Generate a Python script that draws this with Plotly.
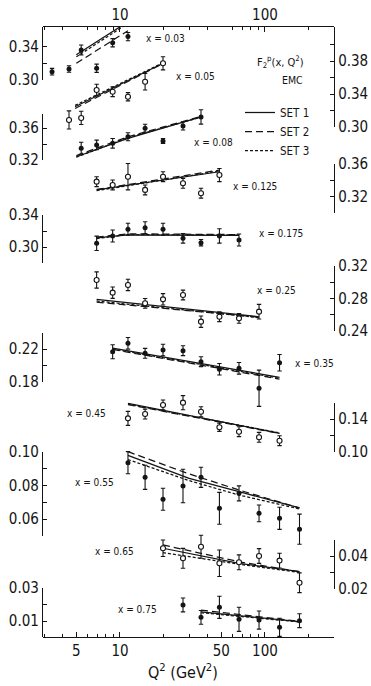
import plotly.graph_objects as go

# ---------------- DATA ----------------
Q2 = [3.4, 4.45, 5.4, 6.9, 8.9, 11.35, 14.9, 19.8, 27.2, 36.2, 48.5, 66.2, 91, 126, 173]

X_LABELS = ["0.03", "0.05", "0.08", "0.125", "0.175", "0.25", "0.35", "0.45", "0.55", "0.65", "0.75"]
FIRST_BIN = [0, 1, 2, 3, 3, 3, 4, 5, 5, 7, 8]
OPEN_SYMBOL = [False, True, False, True, False, True, False, True, False, True, False]

F2_003 = [0.3095, 0.3127, 0.3358, 0.3136, 0.3446, 0.352]
ERR_003 = [0.004, 0.004, 0.006, 0.005, 0.005, 0.005]
F2_005 = [0.3085, 0.311, 0.3448, 0.3428, 0.3367, 0.3549, 0.3772]
ERR_005 = [0.011, 0.008, 0.007, 0.006, 0.005, 0.010, 0.008]
F2_008 = [0.3346, 0.3388, 0.3409, 0.3491, 0.3596, 0.3438, 0.3625, 0.3738]
ERR_008 = [0.0075, 0.006, 0.006, 0.005, 0.005, 0.003, 0.005, 0.009]
F2_0125 = [0.338, 0.334, 0.344, 0.328, 0.344, 0.336, 0.324, 0.346]
ERR_0125 = [0.006, 0.006, 0.016, 0.006, 0.006, 0.006, 0.006, 0.008]
F2_0175 = [0.3046, 0.3138, 0.3221, 0.3241, 0.3221, 0.3109, 0.3054, 0.3138, 0.3088]
ERR_0175 = [0.009, 0.0075, 0.0075, 0.0075, 0.0075, 0.006, 0.004, 0.009, 0.0075]
F2_025 = [0.3028, 0.2872, 0.2967, 0.2741, 0.279, 0.2843, 0.2515, 0.2576, 0.2556, 0.2638]
ERR_025 = [0.010, 0.007, 0.007, 0.006, 0.007, 0.006, 0.007, 0.006, 0.006, 0.009]
F2_035 = [0.2167, 0.2269, 0.2148, 0.2188, 0.218, 0.2046, 0.1954, 0.1966, 0.1724, 0.2034]
ERR_035 = [0.0085, 0.007, 0.006, 0.007, 0.006, 0.006, 0.007, 0.007, 0.022, 0.010]
F2_045 = [0.1408, 0.146, 0.157, 0.1598, 0.1488, 0.130, 0.1246, 0.1178, 0.1137]
ERR_045 = [0.0085, 0.006, 0.006, 0.0085, 0.006, 0.005, 0.006, 0.006, 0.006]
F2_055 = [0.0936, 0.0849, 0.0718, 0.0797, 0.0849, 0.0664, 0.0753, 0.0634, 0.0604, 0.0539]
ERR_055 = [0.0066, 0.0072, 0.0066, 0.010, 0.006, 0.0095, 0.0045, 0.005, 0.0066, 0.009]
F2_065 = [0.0447, 0.0386, 0.0456, 0.0356, 0.0362, 0.040, 0.0372, 0.0238]
ERR_065 = [0.005, 0.006, 0.007, 0.008, 0.0045, 0.0045, 0.0045, 0.006]
F2_075 = [0.0197, 0.0122, 0.0183, 0.011, 0.0106, 0.0062, 0.0102]
ERR_075 = [0.0042, 0.0042, 0.0067, 0.0073, 0.0055, 0.0055, 0.0042]

# fitted curves (SET 1, SET 2, SET 3)
LQ_003 = [5.0, 11.35]
S1_003 = [0.330, 0.370]; S2_003 = [0.3196, 0.3592]; S3_003 = [0.3275, 0.368]
LQ_005 = [4.9, 19.8]
S1_005 = [0.3246, 0.3772]; S2_005 = [0.3225, 0.3768]; S3_005 = [0.3262, 0.3778]
LQ_008 = [5.0, 11.35, 36.2]
S1_008 = [0.3241, 0.3471, 0.3738]; S2_008 = [0.3255, 0.349, 0.3745]; S3_008 = [0.3235, 0.348, 0.3735]
LQ_0125 = [6.9, 19.8, 48.5]
S1_0125 = [0.3279, 0.3394, 0.350]; S2_0125 = [0.3285, 0.341, 0.352]; S3_0125 = [0.327, 0.340, 0.351]
LQ_0175 = [6.9, 11.35, 66.2]
S1_0175 = [0.3113, 0.315, 0.3145]; S2_0175 = [0.3125, 0.3165, 0.3155]; S3_0175 = [0.3105, 0.3155, 0.315]
LQ_025 = [6.9, 91]
S1_025 = [0.279, 0.2575]; S2_025 = [0.2755, 0.257]; S3_025 = [0.277, 0.2565]
LQ_035 = [8.9, 126]
S1_035 = [0.221, 0.1857]; S2_035 = [0.2195, 0.1835]; S3_035 = [0.2200, 0.1845]
LQ_045 = [11.35, 126]
S1_045 = [0.159, 0.1227]; S2_045 = [0.1575, 0.1225]; S3_045 = [0.158, 0.1232]
LQ_055 = [11.35, 30, 66.2, 173]
S1_055 = [0.098, 0.0843, 0.0763, 0.0666]; S2_055 = [0.1002, 0.0869, 0.0773, 0.0666]; S3_055 = [0.0955, 0.0829, 0.0743, 0.066]
LQ_065 = [19.8, 66.2, 173]
S1_065 = [0.0447, 0.0356, 0.0305]; S2_065 = [0.0467, 0.0365, 0.0305]; S3_065 = [0.042, 0.035, 0.030]
LQ_075 = [36.2, 173]
S1_075 = [0.0156, 0.0096]; S2_075 = [0.0166, 0.0098]; S3_075 = [0.015, 0.0094]

X_TICK_LABELS_BOTTOM = ["5", "10", "50", "100"]
X_TICK_LABELS_TOP = ["10", "100"]

F2_ALL = [F2_003, F2_005, F2_008, F2_0125, F2_0175, F2_025, F2_035, F2_045, F2_055, F2_065, F2_075]
ERR_ALL = [ERR_003, ERR_005, ERR_008, ERR_0125, ERR_0175, ERR_025, ERR_035, ERR_045, ERR_055, ERR_065, ERR_075]
LQ_ALL = [LQ_003, LQ_005, LQ_008, LQ_0125, LQ_0175, LQ_025, LQ_035, LQ_045, LQ_055, LQ_065, LQ_075]
S1_ALL = [S1_003, S1_005, S1_008, S1_0125, S1_0175, S1_025, S1_035, S1_045, S1_055, S1_065, S1_075]
S2_ALL = [S2_003, S2_005, S2_008, S2_0125, S2_0175, S2_025, S2_035, S2_045, S2_055, S2_065, S2_075]
S3_ALL = [S3_003, S3_005, S3_008, S3_0125, S3_0175, S3_025, S3_035, S3_045, S3_055, S3_065, S3_075]

# ---------------- LAYOUT SPECS ----------------
W, H = 371, 686
ML, MR, MT, MB = 43, 37, 27, 49
PTOP, PBOT = MT, H - MB
PW, PH = W - ML - MR, H - MT - MB

FONT = "DejaVu Sans Condensed, Liberation Sans Narrow, DejaVu Sans, sans-serif"
INK = "#141414"

# per panel y-axis: side, reference value, its pixel row, px per unit, tick values, tick texts, bracket
AXES = [
    ("left", 0.30, 79.5, 825, [0.30, 0.32, 0.34], ["0.30", "", "0.34"], (0.30, None)),
    ("right", 0.30, 127, 825, [0.30, 0.32, 0.34, 0.36, 0.38, 0.40], ["0.30", "", "0.34", "", "0.38", ""], (0.30, None)),
    ("left", 0.32, 160, 800, [0.32, 0.34, 0.36, 0.3775], ["0.32", "", "0.36", ""], (0.32, 0.3775)),
    ("right", 0.32, 196.5, 825, [0.30, 0.32, 0.34, 0.36], ["", "0.32", "", "0.36"], (0.30, 0.36)),
    ("left", 0.30, 247, 800, [0.28, 0.30, 0.32, 0.34], ["", "0.30", "", "0.34"], (0.28, 0.34)),
    ("right", 0.24, 331, 812, [0.24, 0.26, 0.28, 0.30, 0.32], ["0.24", "", "0.28", "", "0.32"], (0.24, 0.32)),
    ("left", 0.22, 349, 825, [0.18, 0.20, 0.22, 0.24], ["0.18", "", "0.22", ""], (0.18, 0.24)),
    ("right", 0.10, 452, 825, [0.10, 0.12, 0.14, 0.16], ["0.10", "", "0.14", ""], (0.10, 0.16)),
    ("left", 0.06, 519, 1675, [0.05, 0.06, 0.07, 0.08, 0.09, 0.10], ["", "0.06", "", "0.08", "", "0.10"], (0.05, 0.10)),
    ("right", 0.02, 589, 1650, [0.02, 0.03, 0.04, 0.05], ["0.02", "", "0.04", ""], (0.02, 0.05)),
    ("left", 0.01, 621, 1650, [0.01, 0.02, 0.03], ["0.01", "", "0.03"], (None, 0.03)),
]

LABEL_POS = [(165, 38), (195, 77), (213, 142), (255, 187), (281, 233), (276, 290),
             (314, 363), (86, 413), (94, 482), (114, 551), (137, 609)]

DASHES = ["solid", "7px,4px", "3px,2px"]
NP = len(X_LABELS)

fig = go.Figure()
annotations = []


def px_to_paper(px, py):
    return (px - ML) / PW, (PBOT - py) / PH


# bracket axes first (drawn underneath), then data on full-height axes
for k in range(NP):
    side, va, pa, sc, tv, tt, br = AXES[k]
    top = va + (pa - PTOP) / sc
    bot = va - (PBOT - pa) / sc
    lo = br[0] if br[0] is not None else bot
    hi = br[1] if br[1] is not None else top
    d0 = (lo - bot) / (top - bot)
    d1 = (hi - bot) / (top - bot)
    bk = NP + k + 1
    bax = dict(domain=[max(0.0, d0), min(1.0, d1)], range=[lo, hi], tickvals=tv + [lo, hi],
               ticktext=tt + ["", ""], ticks="inside", ticklen=4, tickwidth=1.2, tickcolor=INK,
               showline=True, linecolor=INK, linewidth=1.3, showgrid=False, zeroline=False,
               side=side, anchor="x", automargin=False, fixedrange=True,
               tickfont=dict(family=FONT, size=15, color=INK))
    fig.update_layout(**{f"yaxis{bk}": bax})
    fig.add_trace(go.Scatter(x=Q2[:1], y=[None], yaxis=f"y{bk}", mode="markers",
                             showlegend=False, hoverinfo="skip"))

for k in range(NP):
    yname = "y" if k == 0 else f"y{k+1}"
    f2 = F2_ALL[k]
    q = Q2[FIRST_BIN[k]:FIRST_BIN[k] + len(f2)]
    if OPEN_SYMBOL[k]:
        marker = dict(symbol="circle", size=5, color="white", line=dict(color=INK, width=1.1))
    else:
        marker = dict(symbol="circle", size=5, color=INK, line=dict(color=INK, width=0))
    for s, vals in enumerate([S1_ALL[k], S2_ALL[k], S3_ALL[k]]):
        fig.add_trace(go.Scatter(
            x=LQ_ALL[k], y=vals, mode="lines", yaxis=yname,
            line=dict(color=INK, width=1.25, dash=DASHES[s]),
            name=f"SET {s+1}", legendgroup=f"set{s+1}", showlegend=(k == 0),
            hoverinfo="skip"))
    fig.add_trace(go.Scatter(
        x=q, y=f2, mode="markers", yaxis=yname, marker=marker, showlegend=False,
        error_y=dict(type="data", array=ERR_ALL[k], color=INK, thickness=1.1, width=2.2)))

    side, va, pa, sc, tv, tt, br = AXES[k]
    top = va + (pa - PTOP) / sc
    bot = va - (PBOT - pa) / sc
    ax = dict(range=[bot, top], showticklabels=False, ticks="", showgrid=False, zeroline=False,
              showline=False, side=side, anchor="x", automargin=False, fixedrange=True)
    if k > 0:
        ax["overlaying"] = "y"
    fig.update_layout(**{("yaxis" if k == 0 else f"yaxis{k+1}"): ax})

    lx, ly = px_to_paper(*LABEL_POS[k])
    annotations.append(dict(text=f"x = {X_LABELS[k]}", xref="paper", yref="paper", x=lx, y=ly,
                            showarrow=False, xanchor="center", yanchor="middle",
                            font=dict(family=FONT, size=10, color=INK)))

# dummy trace to realise the top axis
fig.add_trace(go.Scatter(x=Q2, y=[None] * len(Q2), xaxis="x2", yaxis="y", mode="markers",
                         showlegend=False, hoverinfo="skip"))

minor_vals = [3, 4, 6, 7, 8, 9, 20, 30, 40, 60, 70, 80, 90, 200, 300]
xrange_ = [0.469, 2.476]
fig.update_layout(
    xaxis=dict(type="log", range=xrange_, tickvals=[5, 10, 50, 100], ticktext=X_TICK_LABELS_BOTTOM,
               ticks="inside", ticklen=5, tickwidth=1.2, tickcolor=INK,
               minor=dict(tickvals=minor_vals, ticks="inside", ticklen=3, tickwidth=1, tickcolor=INK),
               showline=True, linecolor=INK, linewidth=1.3, showgrid=False, zeroline=False,
               anchor="y", automargin=False, fixedrange=True,
               tickfont=dict(family=FONT, size=15, color=INK)),
    xaxis2=dict(type="log", range=xrange_, overlaying="x", side="top", anchor="y",
                tickvals=[10, 100], ticktext=X_TICK_LABELS_TOP,
                ticks="inside", ticklen=5, tickwidth=1.2, tickcolor=INK,
                minor=dict(tickvals=minor_vals, ticks="inside", ticklen=3, tickwidth=1, tickcolor=INK),
                showline=True, linecolor=INK, linewidth=1.3, showgrid=False, zeroline=False,
                automargin=False, fixedrange=True,
                tickfont=dict(family=FONT, size=15, color=INK)),
)

ax_, ay_ = px_to_paper(280, 62)
annotations.append(dict(text="F<sub>2</sub><sup>p</sup>(x, Q<sup>2</sup>)", xref="paper", yref="paper",
                        x=ax_, y=ay_, showarrow=False, xanchor="center", yanchor="middle",
                        font=dict(family=FONT, size=11, color=INK)))
ax_, ay_ = px_to_paper(292, 80)
annotations.append(dict(text="EMC", xref="paper", yref="paper", x=ax_, y=ay_, showarrow=False,
                        xanchor="center", yanchor="middle",
                        font=dict(family=FONT, size=10.5, color=INK)))
ax_, ay_ = px_to_paper(183, 671)
annotations.append(dict(text="Q<sup>2</sup> (GeV<sup>2</sup>)", xref="paper", yref="paper", x=ax_, y=ay_,
                        showarrow=False, xanchor="center", yanchor="middle",
                        font=dict(family=FONT, size=16, color=INK)))

lgx, lgy = px_to_paper(240, 98)
fig.update_layout(
    width=W, height=H, margin=dict(l=ML, r=MR, t=MT, b=MB, pad=0),
    paper_bgcolor="white", plot_bgcolor="rgba(0,0,0,0)", template="none",
    annotations=annotations,
    legend=dict(x=lgx, y=lgy, xanchor="left", yanchor="top", bgcolor="rgba(0,0,0,0)",
                borderwidth=0, itemwidth=30, tracegroupgap=0,
                font=dict(family=FONT, size=11.5, color=INK)),
    showlegend=True,
)

fig.write_html("out.html")
